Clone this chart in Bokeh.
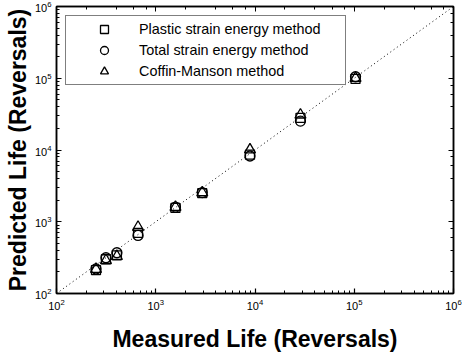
from bokeh.plotting import figure
from bokeh.models import LogAxis, Legend, LegendItem, ColumnDataSource, Title
from bokeh.embed import file_html
from bokeh.resources import INLINE

# Data
measured = [250, 315, 406, 663, 1580, 2940, 8900, 28700, 103000]
plastic = [212, 300, 340, 700, 1560, 2500, 8600, 28000, 98000]
total = [220, 315, 370, 645, 1600, 2550, 8250, 25300, 105000]
coffin = [218, 290, 330, 843, 1600, 2550, 10100, 30900, 100000]
diag = [1e2, 1e6]

FONT = "Liberation Sans"

p = figure(x_axis_type="log", y_axis_type="log",
           x_range=(1e2, 1e6), y_range=(1e2, 1e6),
           frame_width=397, frame_height=287,
           min_border_left=56, min_border_right=9,
           min_border_top=6, min_border_bottom=59,
           output_backend="svg", toolbar_location=None)

p.grid.visible = False
p.outline_line_color = "black"
p.outline_line_width = 1.5
p.background_fill_color = "white"
p.border_fill_color = "white"

for ax in (p.xaxis[0], p.yaxis[0]):
    ax.major_tick_in = 5
    ax.major_tick_out = 0
    ax.minor_tick_in = 3
    ax.minor_tick_out = 0
    ax.axis_line_width = 1.5
    ax.major_tick_line_width = 1.2
    ax.minor_tick_line_width = 1
    ax.major_label_text_font = FONT
    ax.major_label_text_font_size = "11px"
    ax.major_label_text_color = "black"
    ax.axis_label_text_font = FONT
    ax.axis_label_text_font_style = "bold"
    ax.axis_label_text_font_size = "23px"
    ax.axis_label_text_color = "black"

p.xaxis.axis_label = "Measured Life (Reversals)"
p.xaxis.major_label_standoff = 5
p.yaxis.major_label_standoff = 5
p.xaxis.axis_label_standoff = 13

ytitle = Title(text="Predicted Life (Reversals)", align="center", offset=15,
               text_font=FONT, text_font_style="bold", text_font_size="23px",
               text_color="black", standoff=1)
p.add_layout(ytitle, "left")

# mirrored tick axes
for loc in ("above", "right"):
    ax = LogAxis(major_tick_in=5, major_tick_out=0, minor_tick_in=3, minor_tick_out=0,
                 axis_line_width=1.5, major_label_text_font_size="1px",
                 major_label_text_color=None, major_label_standoff=0)
    p.add_layout(ax, loc)

p.line(diag, diag, line_color="black", line_dash="1 3", line_width=1)

src = ColumnDataSource(dict(x=measured, plastic=plastic, total=total, coffin=coffin))
r1 = p.scatter("x", "plastic", source=src, marker="square", size=9,
               fill_color=None, line_color="black", line_width=1.3)
r2 = p.scatter("x", "total", source=src, marker="circle", size=10,
               fill_color=None, line_color="black", line_width=1.3)
r3 = p.scatter("x", "coffin", source=src, marker="triangle", size=11,
               fill_color=None, line_color="black", line_width=1.3)

legend = Legend(items=[
    LegendItem(label="Plastic strain energy method", renderers=[r1]),
    LegendItem(label="Total strain energy method", renderers=[r2]),
    LegendItem(label="Coffin-Manson method", renderers=[r3]),
], location="top_left")
legend.label_text_font = FONT
legend.label_text_font_size = "14.4px"
legend.label_text_color = "black"
legend.padding = 3
legend.spacing = 1
legend.label_height = 20
legend.glyph_height = 20
legend.glyph_width = 70
legend.label_standoff = 0
legend.label_width = 203
legend.border_line_color = "black"
legend.border_line_width = 1
legend.margin = 9
legend.background_fill_color = "white"
legend.background_fill_alpha = 1
p.add_layout(legend)

open("out.html", "w").write(file_html(p, INLINE))
